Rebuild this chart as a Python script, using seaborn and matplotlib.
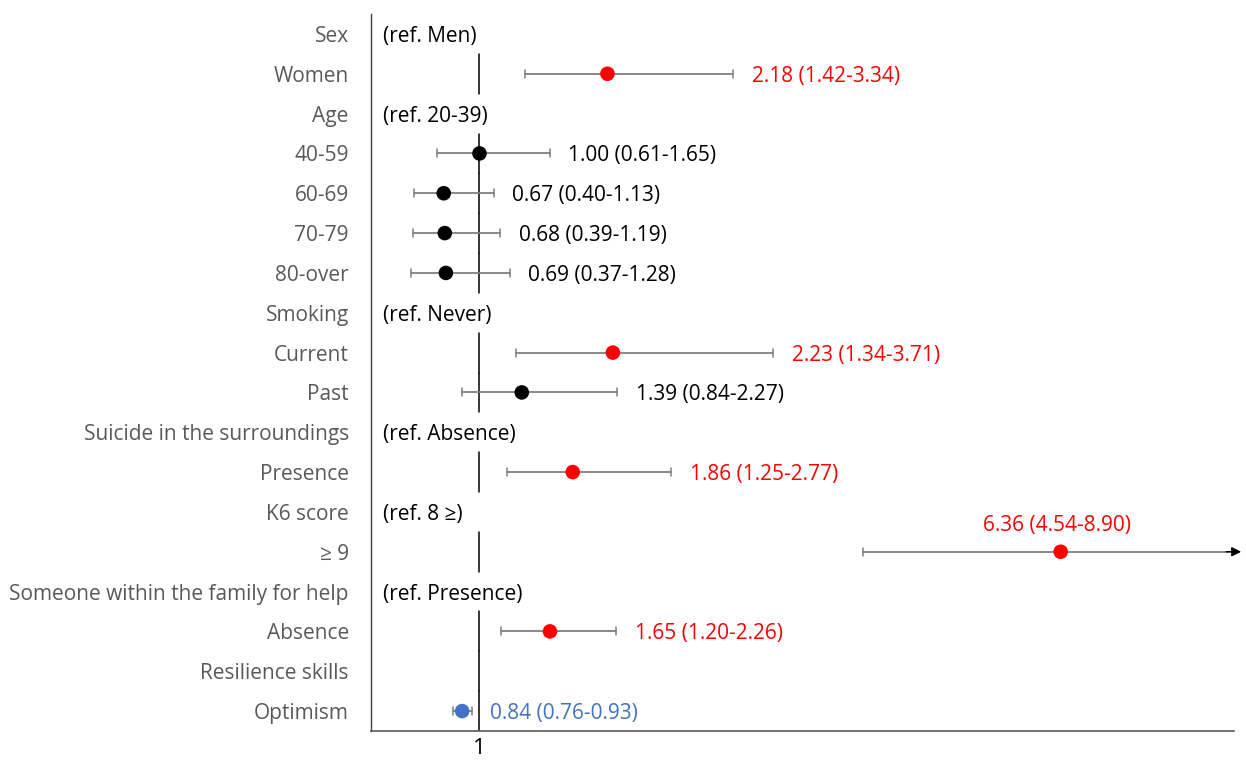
import numpy as np
import pandas as pd
import matplotlib
matplotlib.use("Agg")
import matplotlib.pyplot as plt
import seaborn as sns

# rows from top to bottom
labels = ["Sex", "Women", "Age", "40-59", "60-69", "70-79", "80-over",
          "Smoking", "Current", "Past", "Suicide in the surroundings", "Presence",
          "K6 score", "\u2265 9", "Someone within the family for help", "Absence",
          "Resilience skills", "Optimism"]
refs = {0: "(ref. Men)", 2: "(ref. 20-39)", 7: "(ref. Never)", 10: "(ref. Absence)",
        12: "(ref. 8 \u2265)", 14: "(ref. Presence)"}

rows = [1, 3, 4, 5, 6, 8, 9, 11, 13, 15, 17]
est = [2.18, 1.00, 0.67, 0.68, 0.69, 2.23, 1.39, 1.86, 6.36, 1.65, 0.84]
low = [1.42, 0.61, 0.40, 0.39, 0.37, 1.34, 0.84, 1.25, 4.54, 1.20, 0.76]
high = [3.34, 1.65, 1.13, 1.19, 1.28, 3.71, 2.27, 2.77, 8.90, 2.26, 0.93]
group = ["sig", "ns", "ns", "ns", "ns", "sig", "ns", "sig", "sig", "sig", "prot"]

pal = {"sig": "#FF0000", "ns": "#000000", "prot": "#4472C4"}
df = pd.DataFrame({"row": rows, "est": est, "low": low, "high": high, "group": group})

sns.set_style("white")
plt.rcParams['font.family'] = ['Open Sans', 'DejaVu Sans']

fig = plt.figure(figsize=(12.46, 7.62), dpi=100)
ax = fig.add_axes([0.2978, 0.0407, 0.6927, 0.9409])
XMAX = 7.96
ax.set_xlim(0, XMAX)
ax.set_ylim(17.5, -0.5)

# reference line at 1, broken at header rows
for r in range(len(labels)):
    if r not in refs:
        ax.plot([1, 1], [r - 0.5, r + 0.5], color="black", lw=1.1, zorder=1)

# confidence intervals
for _, d in df.iterrows():
    hi = min(d["high"], XMAX)
    ax.plot([d["low"], hi], [d["row"], d["row"]], color="#7F7F7F", lw=1.3, zorder=2)
    ax.plot([d["low"], d["low"]], [d["row"] - 0.1, d["row"] + 0.1], color="#7F7F7F", lw=1.1, zorder=2)
    if d["high"] <= XMAX:
        ax.plot([hi, hi], [d["row"] - 0.1, d["row"] + 0.1], color="#7F7F7F", lw=1.1, zorder=2)
    else:
        ax.annotate("", xy=(XMAX + 0.09, d["row"]), xytext=(XMAX - 0.1, d["row"]),
                    arrowprops=dict(arrowstyle="-|>", color="black", lw=1, mutation_scale=14),
                    annotation_clip=False)

sns.scatterplot(data=df, x="est", y="row", hue="group", palette=pal, s=110,
                edgecolor="none", legend=False, zorder=3, ax=ax)

# value labels
for _, d in df.iterrows():
    txt = f"{d['est']:.2f} ({d['low']:.2f}-{d['high']:.2f})"
    c = pal[d["group"]]
    if d["high"] > XMAX:
        ax.text(d["est"] - 0.03, d["row"] - 0.72, txt, color=c, fontsize=15,
                ha="center", va="center_baseline")
    else:
        ax.text(d["high"] + 0.17, d["row"], txt, color=c, fontsize=15,
                ha="left", va="center_baseline")

for r, t in refs.items():
    ax.text(0.11, r, t, color="black", fontsize=15, ha="left", va="center_baseline")

ax.set_yticks(range(len(labels)))
ax.set_yticklabels(labels, color="#595959", fontsize=15)
ax.set_xticks([1])
ax.set_xticklabels(["1"], fontsize=16, color="black")
ax.tick_params(axis="both", length=0)
ax.tick_params(axis="y", pad=16)
ax.tick_params(axis="x", pad=5)
ax.set_xlabel("")
ax.set_ylabel("")
sns.despine(ax=ax, top=True, right=True)
ax.spines["left"].set_color("#404040")
ax.spines["bottom"].set_color("#595959")
ax.spines["left"].set_linewidth(1.0)
ax.spines["bottom"].set_linewidth(1.2)

fig.savefig("out.png", dpi=100)
